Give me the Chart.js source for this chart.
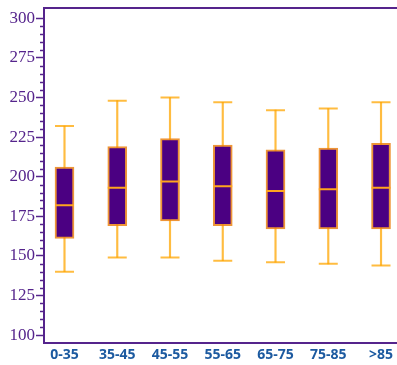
<!DOCTYPE html>
<html>
<head>
<meta charset="utf-8">
<script src="https://cdn.jsdelivr.net/npm/chart.js@4/dist/chart.umd.min.js"></script>
<style>
  html, body { margin: 0; padding: 0; overflow: hidden; background: #fff; }
  canvas { position: relative; top: -4px; }
</style>
</head>
<body>
<canvas id="box" width="440" height="369"></canvas>
<script>
var ageGroups = ['0-35', '35-45', '45-55', '55-65', '65-75', '75-85', '>85'];
var whiskerLow = [140, 149, 149, 147, 146, 145, 144];
var lowerQuartile = [161, 169, 172, 169, 167, 167, 167];
var medians = [182, 193, 197, 194, 191, 192, 193];
var upperQuartile = [206, 219, 224, 220, 217, 218, 221];
var whiskerHigh = [232, 248, 250, 247, 242, 243, 247];
var yTickValues = [100, 125, 150, 175, 200, 225, 250, 275, 300];
var yMinorStep = 5;

var purple = '#55248c';
var boxFill = '#4b0082';
var boxEdge = 'rgba(235,130,20,0.85)';
var whiskerColor = 'rgba(255,165,0,0.75)';
var medianColor = '#ffa51e';

var boxes = ageGroups.map(function(g, i) {
    return {x: i, y: [lowerQuartile[i], upperQuartile[i]]};
});
var whiskers = ageGroups.map(function(g, i) {
    return {x: i, y: [whiskerLow[i], whiskerHigh[i]]};
});
var caps = [];
ageGroups.forEach(function(g, i) {
    caps.push({x: i, y: whiskerLow[i]});
    caps.push({x: i, y: whiskerHigh[i]});
});
var medianPts = ageGroups.map(function(g, i) {
    return {x: i, y: medians[i]};
});

// small ticks between the labelled ones on the value axis
var minorTicks = {
    id: 'minorTicks',
    afterDraw: function(chart) {
        var y = chart.scales.y;
        var ctx = chart.ctx;
        var left = chart.chartArea.left;
        ctx.save();
        ctx.strokeStyle = purple;
        ctx.lineWidth = 1.5;
        for (var v = yTickValues[0]; v <= yTickValues[yTickValues.length - 1]; v += yMinorStep) {
            if (yTickValues.indexOf(v) >= 0) continue;
            var py = Math.round(y.getPixelForValue(v)) + 0.5;
            ctx.beginPath();
            ctx.moveTo(left, py);
            ctx.lineTo(left - 4, py);
            ctx.stroke();
        }
        ctx.restore();
    }
};

window.onload = function() {
    var ctx = document.getElementById('box').getContext('2d');
    window.myChart = new Chart(ctx, {
        type: 'bar',
        data: {
            datasets: [{
                type: 'scatter',
                data: medianPts,
                pointStyle: 'line',
                pointRadius: 9.5,
                borderColor: medianColor,
                borderWidth: 2,
                order: 0
            },
            {
                data: boxes,
                backgroundColor: boxFill,
                borderColor: boxEdge,
                borderWidth: 2,
                borderSkipped: false,
                barThickness: 19,
                grouped: false,
                order: 1
            },
            {
                type: 'scatter',
                data: caps,
                pointStyle: 'line',
                pointRadius: 9.5,
                borderColor: whiskerColor,
                borderWidth: 2,
                order: 2
            },
            {
                data: whiskers,
                backgroundColor: whiskerColor,
                borderWidth: 0,
                barThickness: 1.5,
                grouped: false,
                order: 3
            }]
        },
        options: {
            responsive: false,
            animation: false,
            layout: {padding: 0},
            plugins: {
                legend: {display: false},
                tooltip: {enabled: false}
            },
            scales: {
                x: {
                    type: 'linear',
                    position: 'bottom',
                    offset: false,
                    min: -0.3886,
                    max: 6.90,
                    afterBuildTicks: function(scale) {
                        scale.ticks = ageGroups.map(function(g, i) { return {value: i}; });
                    },
                    afterFit: function(scale) { scale.height = 22; },
                    grid: {display: false, drawTicks: false},
                    border: {display: true, color: purple, width: 2},
                    ticks: {
                        padding: 4,
                        autoSkip: false,
                        maxRotation: 0,
                        color: '#1c5aa0',
                        font: {family: 'Open Sans', size: 14, weight: 'bold'},
                        callback: function(v) { return ageGroups[v]; }
                    }
                },
                xTop: {
                    type: 'linear',
                    position: 'top',
                    offset: false,
                    min: 0,
                    max: 1,
                    afterFit: function(scale) { scale.height = 0; },
                    grid: {display: false, drawTicks: false},
                    border: {display: true, color: purple, width: 2},
                    ticks: {display: false}
                },
                y: {
                    min: 95,
                    max: 306.8,
                    afterBuildTicks: function(scale) {
                        scale.ticks = yTickValues.map(function(v) { return {value: v}; });
                    },
                    afterFit: function(scale) { scale.width = 44; },
                    grid: {
                        drawOnChartArea: false,
                        drawTicks: true,
                        tickLength: 8,
                        tickColor: purple,
                        tickWidth: 1.5
                    },
                    border: {display: true, color: purple, width: 2},
                    ticks: {
                        padding: 1,
                        color: purple,
                        font: {family: 'Liberation Serif', size: 17}
                    }
                }
            }
        },
        plugins: [minorTicks]
    });
};
</script>
</body>
</html>
